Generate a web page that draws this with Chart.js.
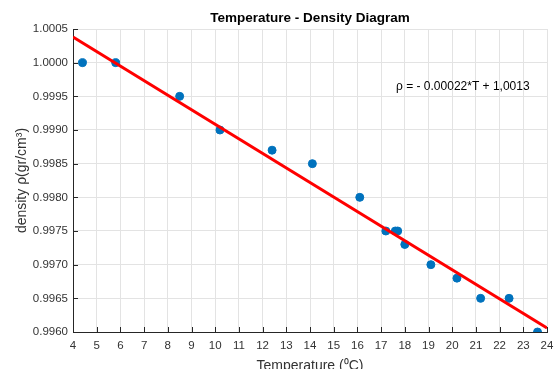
<!DOCTYPE html>
<html>
<head>
<meta charset="utf-8">
<script src="https://cdn.jsdelivr.net/npm/chart.js@4/dist/chart.umd.min.js"></script>
<style>
  html, body { margin: 0; padding: 0; background: #fff; }
  #wrap { width: 555px; height: 369px; }
</style>
</head>
<body>
<div id="wrap"><canvas id="chart"></canvas></div>
<script>
// measured points (temperature in C, density in gr/cm3)
const temperatures = [4.4, 5.8, 8.5, 10.2, 12.4, 14.1, 16.1, 17.2, 17.6, 17.7, 18.0, 19.1, 20.2, 21.2, 22.4, 23.6];
const densities = [1.0000, 1.0000, 0.9995, 0.9990, 0.9987, 0.9985, 0.9980, 0.9975, 0.9975, 0.9975, 0.9973, 0.9970, 0.9968, 0.9965, 0.9965, 0.9960];

// fitted line end points
const fitT = [4, 24];
const fitRho = [1.00038, 0.99606];

const xTicks = [4, 5, 6, 7, 8, 9, 10, 11, 12, 13, 14, 15, 16, 17, 18, 19, 20, 21, 22, 23, 24];
const yTicks = [0.9960, 0.9965, 0.9970, 0.9975, 0.9980, 0.9985, 0.9990, 0.9995, 1.0000, 1.0005];

const chartTitle = 'Temperature - Density Diagram';
const equationText = 'ρ = - 0.00022*T + 1,0013';

const FONT = "'Liberation Sans', Arial, sans-serif";
const textColor = '#333333';

// title over the plot area, inward tick marks and equation label
const extras = {
    id: 'extras',
    afterDatasetsDraw(chart) {
        const ctx = chart.ctx;
        const x = chart.scales.x;
        const y = chart.scales.y;
        const area = chart.chartArea;
        ctx.save();
        ctx.strokeStyle = '#262626';
        ctx.lineWidth = 1;
        ctx.beginPath();
        xTicks.forEach(t => {
            const px = Math.round(x.getPixelForValue(t)) + 0.5;
            ctx.moveTo(px, area.bottom);
            ctx.lineTo(px, area.bottom - 5);
        });
        yTicks.forEach(t => {
            const py = Math.round(y.getPixelForValue(t)) + 0.5;
            ctx.moveTo(area.left, py);
            ctx.lineTo(area.left + 5, py);
        });
        ctx.stroke();

        ctx.fillStyle = '#000';
        ctx.font = '12px ' + FONT;
        ctx.textAlign = 'left';
        ctx.textBaseline = 'middle';
        ctx.fillText(equationText, x.getPixelForValue(17.63), y.getPixelForValue(0.99964));

        ctx.font = 'bold 13.5px ' + FONT;
        ctx.textAlign = 'center';
        ctx.fillText(chartTitle, (area.left + area.right) / 2, 18);
        ctx.restore();
    }
};

new Chart(document.getElementById('chart'), {
    type: 'scatter',
    data: {
        datasets: [
            {
                label: 'fit',
                type: 'line',
                data: fitT.map((t, i) => ({ x: t, y: fitRho[i] })),
                borderColor: '#ff0000',
                borderWidth: 3,
                pointRadius: 0,
                fill: false,
                order: 1
            },
            {
                label: 'data',
                data: temperatures.map((t, i) => ({ x: t, y: densities[i] })),
                backgroundColor: '#0072bd',
                borderColor: '#0072bd',
                pointRadius: 4,
                order: 2
            }
        ]
    },
    options: {
        responsive: true,
        maintainAspectRatio: false,
        animation: false,
        layout: { padding: { left: 0, right: 8, top: 29, bottom: 0 } },
        plugins: {
            legend: { display: false },
            tooltip: { enabled: false },
            title: { display: false }
        },
        scales: {
            x: {
                type: 'linear',
                min: 4,
                max: 24,
                afterBuildTicks: scale => { scale.ticks = xTicks.map(v => ({ value: v })); },
                afterFit: scale => {
                    scale.height = 37;
                    scale.paddingLeft = 0;
                    scale.paddingRight = 0;
                },
                ticks: {
                    color: textColor,
                    font: { family: FONT, size: 11.5 },
                    padding: 7,
                    maxRotation: 0,
                    autoSkip: false
                },
                grid: { color: '#e3e3e3', drawTicks: false },
                border: { display: true, color: '#262626', width: 1 },
                title: {
                    display: true,
                    text: 'Temperature (⁰C)',
                    color: textColor,
                    font: { family: FONT, size: 14 },
                    padding: { top: 0, bottom: -6 }
                }
            },
            y: {
                type: 'linear',
                min: 0.996,
                max: 1.0005,
                afterBuildTicks: scale => { scale.ticks = yTicks.map(v => ({ value: v })); },
                afterFit: scale => { scale.width = 73; },
                ticks: {
                    color: textColor,
                    font: { family: FONT, size: 11.5 },
                    padding: 5,
                    autoSkip: false,
                    callback: v => v.toFixed(4)
                },
                grid: { color: '#e3e3e3', drawTicks: false },
                border: { display: true, color: '#262626', width: 1 },
                title: {
                    display: true,
                    text: 'density ρ(gr/cm³)',
                    color: textColor,
                    font: { family: FONT, size: 14 },
                    padding: { top: 14, bottom: 0 }
                }
            }
        }
    },
    plugins: [extras]
});
</script>
</body>
</html>
